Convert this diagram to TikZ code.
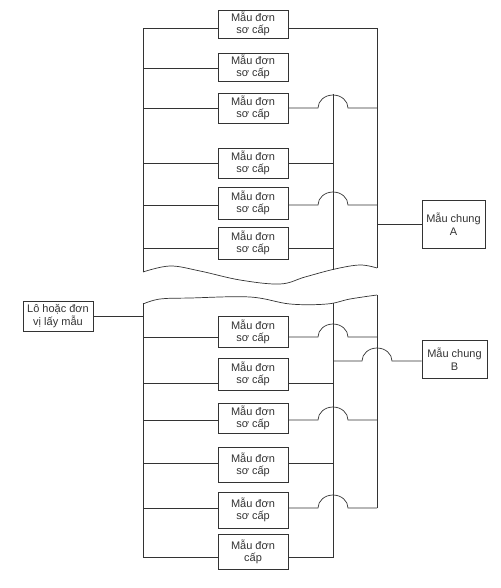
\documentclass[tikz,border=0pt]{standalone}
\usepackage{fontspec}
\setmainfont{Liberation Sans}
\usetikzlibrary{calc}
\begin{document}
\begin{tikzpicture}[x=1pt,y=-1pt,
  ln/.style={draw=black!80, line width=0.7pt},
  box/.style={draw=black!80, line width=0.7pt, minimum width=70pt, minimum height=30pt,
    align=center, inner sep=1pt, font=\fontsize{11}{12.5}\selectfont, text=black!80}
]
\useasboundingbox (0,0) rectangle (500,588);
% ---------- top section boxes
\node[box, minimum height=28pt] (t1) at (253,24) {Mẫu đơn\\sơ cấp};
\node[box, minimum height=28pt] (t2) at (253,67) {Mẫu đơn\\sơ cấp};
\node[box] (t3) at (253,108) {Mẫu đơn\\sơ cấp};
\node[box] (t4) at (253,163) {Mẫu đơn\\sơ cấp};
\node[box, minimum height=32pt] (t5) at (253,203) {Mẫu đơn\\sơ cấp};
\node[box, minimum height=32pt] (t6) at (253,243) {Mẫu đơn\\sơ cấp};
\node[box, minimum width=63pt, minimum height=48pt] (A) at (453.5,224) {Mẫu chung\\A};
% ---------- bottom section boxes
\node[box] (lot) at (58,316) {Lô hoặc đơn\\vị lấy mẫu};
\node[box, minimum height=31pt] (b1) at (253,332) {Mẫu đơn\\sơ cấp};
\node[box, minimum height=32pt] (b2) at (253,374) {Mẫu đơn\\sơ cấp};
\node[box] (b3) at (253,418) {Mẫu đơn\\sơ cấp};
\node[box, minimum height=35pt] (b4) at (253,465) {Mẫu đơn\\sơ cấp};
\node[box, minimum height=36pt] (b5) at (253,510) {Mẫu đơn\\sơ cấp};
\node[box, minimum height=35pt] (b6) at (253,552) {Mẫu đơn\\cấp};
\node[box, minimum width=65pt, minimum height=38pt] (B) at (454.5,359) {Mẫu chung\\B};

% ---------- top section wiring
\coordinate (LT) at (143,28);
\coordinate (LTb) at (143,272);
\coordinate (OT) at (377,28);
\coordinate (OTb) at (377,268);
\coordinate (IT) at (333,94);
\coordinate (ITb) at (333,270);
\coordinate (y2) at (143,68);
\coordinate (y3) at (143,108);
\coordinate (y4) at (143,163);
\coordinate (y5) at (143,205);
\coordinate (y6) at (143,248);

\draw[ln] (LTb) -- (LT) -- (LT -| t1.west);
\draw[ln] (LT -| t1.east) -- (OT) -- (OTb);
\draw[ln] (IT) -- (ITb);
\draw[ln] (y2) -- (y2 -| t2.west);
\draw[ln] (y3) -- (y3 -| t3.west);
\draw[ln] (y3 -| t3.east) -- ($(y3 -| IT)+(-15,0)$) arc[start angle=180,end angle=360,x radius=15,y radius=13] -- (y3 -| OT);
\draw[ln] (y4) -- (y4 -| t4.west);
\draw[ln] (y4 -| t4.east) -- (y4 -| IT);
\draw[ln] (y5) -- (y5 -| t5.west);
\draw[ln] (y5 -| t5.east) -- ($(y5 -| IT)+(-15,0)$) arc[start angle=180,end angle=360,x radius=15,y radius=13] -- (y5 -| OT);
\draw[ln] (y6) -- (y6 -| t6.west);
\draw[ln] (y6 -| t6.east) -- (y6 -| IT);
\draw[ln] (A.west -| OT) -- (A.west);
% torn edge
\draw[ln] plot[smooth, tension=0.6] coordinates {(143,272) (170,266) (200,271) (240,280) (280,284) (305,277) (335,269) (360,265) (377,268)};

% ---------- bottom section wiring
\coordinate (LB0) at (143,303);
\coordinate (LB6) at (143,557);
\coordinate (OB0) at (377,295);
\coordinate (OB5) at (377,508);
\coordinate (IB0) at (333,303);
\coordinate (IB6) at (333,557);
\coordinate (z1) at (143,337);
\coordinate (z2) at (143,383);
\coordinate (z3) at (143,420);
\coordinate (z4) at (143,463);
\coordinate (z5) at (143,508);
\coordinate (zB) at (143,361);

\draw[ln] plot[smooth, tension=0.6] coordinates {(143,304) (160,299) (190,298) (250,297) (290,304) (327,304) (350,299) (377,295)};
\draw[ln] (lot.east) -- (lot.east -| LB0);
\draw[ln] (LB0) -- (LB6) -- (LB6 -| b6.west);
\draw[ln] (LB6 -| b6.east) -- (IB6) -- (IB0);
\draw[ln] (OB0) -- (OB5);
\draw[ln] (z1) -- (z1 -| b1.west);
\draw[ln] (z1 -| b1.east) -- ($(z1 -| IB0)+(-15,0)$) arc[start angle=180,end angle=360,x radius=15,y radius=13] -- (z1 -| OB0);
\draw[ln] (zB -| IB0) -- ($(zB -| OB0)+(-15,0)$) arc[start angle=180,end angle=360,x radius=15,y radius=13] -- (zB -| B.west);
\draw[ln] (z2) -- (z2 -| b2.west);
\draw[ln] (z2 -| b2.east) -- (z2 -| IB0);
\draw[ln] (z3) -- (z3 -| b3.west);
\draw[ln] (z3 -| b3.east) -- ($(z3 -| IB0)+(-15,0)$) arc[start angle=180,end angle=360,x radius=15,y radius=13] -- (z3 -| OB0);
\draw[ln] (z4) -- (z4 -| b4.west);
\draw[ln] (z4 -| b4.east) -- (z4 -| IB0);
\draw[ln] (z5) -- (z5 -| b5.west);
\draw[ln] (z5 -| b5.east) -- ($(z5 -| IB0)+(-15,0)$) arc[start angle=180,end angle=360,x radius=15,y radius=13] -- (OB5);
\end{tikzpicture}
\end{document}
